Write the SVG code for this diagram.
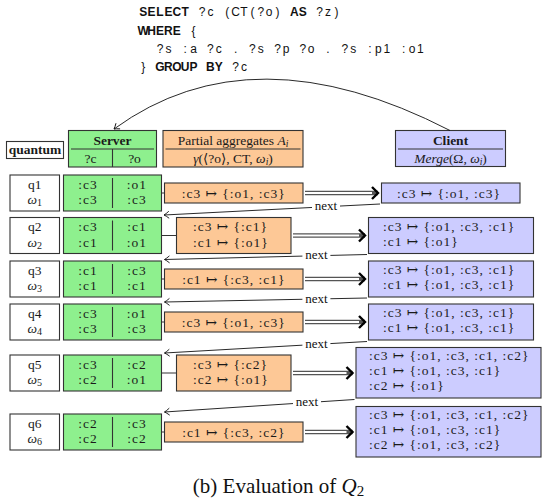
<svg xmlns="http://www.w3.org/2000/svg" width="542" height="502" viewBox="0 0 542 502">
<defs>
<style>
.q{font-family:"Liberation Sans",Arial,sans-serif;font-size:12px;fill:#111;text-anchor:middle}
.kw{font-weight:bold}
.t{font-family:"Liberation Serif","DejaVu Serif","Times New Roman",serif;font-size:13.5px;fill:#1a1a1a}
.m{letter-spacing:1px}
.c{text-anchor:middle}
.b{font-weight:bold}
.i{font-style:italic}
.sub{font-size:9.5px}
.box{stroke:#333;stroke-width:1.1}
.w{fill:#fff}
.g{fill:#8ef08e}
.o{fill:#fdc896}
.u{fill:#ccccff}
.dv{stroke:#333;stroke-width:1.1;fill:none}
.dbl{fill:none;stroke:#555;stroke-width:4.4;marker-end:url(#imp)}
.dbl-in{fill:none;stroke:#fff;stroke-width:2}
.nx{fill:none;stroke:#111;stroke-width:0.9;marker-end:url(#to)}
.lbl{font-family:"Liberation Serif","DejaVu Serif",serif;font-size:13px;fill:#111;text-anchor:middle}
.cap{font-family:"Liberation Serif","DejaVu Serif",serif;font-size:21px;fill:#111;text-anchor:middle}
</style>
<marker id="to" markerUnits="userSpaceOnUse" markerWidth="10" markerHeight="10" refX="0" refY="0" orient="auto" overflow="visible">
<path d="M-5,-3.5 Q-2,-1 0,0 Q-2,1 -5,3.5" fill="none" stroke="#111" stroke-width="0.9"/>
</marker>
<marker id="imp" markerUnits="userSpaceOnUse" markerWidth="12" markerHeight="14" refX="0" refY="0" orient="auto" overflow="visible">
<path d="M-6,-6 L0,0 L-6,6" fill="none" stroke="#000" stroke-width="2.4"/>
</marker>
</defs>
<rect width="542" height="502" fill="#fff"/>

<g id="query">
<text class="q" y="16"><tspan class="kw" x="143.2 151.6 160 168.4 176.8 185.2">SELECT</tspan><tspan x="202 210.4">?c</tspan><tspan x="227.2 235.6 244 252.4 260.8 269.2 277.6">(CT(?o)</tspan><tspan class="kw" x="294.4 302.8">AS</tspan><tspan x="319.6 328 336.4">?z)</tspan></text>
<text class="q" y="34.5"><tspan class="kw" x="143.2 151.6 160 168.4 176.8">WHERE</tspan><tspan x="193.6">{</tspan></text>
<text class="q" y="52.5"><tspan x="160 168.4">?s</tspan><tspan x="185.2 193.6">:a</tspan><tspan x="210.4 218.8">?c</tspan><tspan x="235.6">.</tspan><tspan x="252.4 260.8">?s</tspan><tspan x="277.6 286">?p</tspan><tspan x="302.8 311.2">?o</tspan><tspan x="328">.</tspan><tspan x="344.8 353.2">?s</tspan><tspan x="370 378.4 386.8">:p1</tspan><tspan x="403.6 412 420.4">:o1</tspan></text>
<text class="q" y="71"><tspan x="143.2">}</tspan><tspan class="kw" x="160 168.4 176.8 185.2 193.6">GROUP</tspan><tspan class="kw" x="210.4 218.8">BY</tspan><tspan x="235.6 244">?c</tspan></text>
</g>

<g id="hdr-quantum">
<rect class="box w" x="6.5" y="141.5" width="57" height="17"/>
<text class="t b c" x="35" y="154">quantum</text>
</g>
<g id="hdr-server">
<rect class="box g" x="68.5" y="130.5" width="88" height="36.5"/>
<path class="dv" d="M71,149 H154 M112.5,149 V167"/>
<text class="t b c" x="112.5" y="144.5">Server</text>
<text class="t c" x="90.5" y="162.5">?c</text>
<text class="t c" x="134.5" y="162.5">?o</text>
</g>
<g id="hdr-partial">
<rect class="box o" x="163" y="130.5" width="140" height="36.5"/>
<path class="dv" d="M165.5,149 H300.5"/>
<text class="t c" x="233" y="144.5">Partial aggregates <tspan class="i">A</tspan><tspan class="i sub" dy="2.5">i</tspan></text>
<text class="t c" x="233" y="162.5"><tspan class="i">γ</tspan>(⟨?o⟩, CT, <tspan class="i">ω</tspan><tspan class="i sub" dy="2.5">i</tspan><tspan dy="-2.5">)</tspan></text>
</g>
<g id="hdr-client">
<rect class="box u" x="395.5" y="130.5" width="110" height="36"/>
<path class="dv" d="M398,149 H503"/>
<text class="t b c" x="450.5" y="144.5">Client</text>
<text class="t c" x="450.5" y="162.5"><tspan class="i">Merge</tspan>(Ω, <tspan class="i">ω</tspan><tspan class="i sub" dy="2.5">i</tspan><tspan dy="-2.5">)</tspan></text>
</g>

<!-- row 1 -->
<g id="q1">
<rect class="box w" x="10" y="175" width="49.5" height="36"/>
<text class="t c" x="34.75" y="188.5">q1</text>
<text class="t c" x="34.75" y="204"><tspan class="i">ω</tspan><tspan font-size="10" dy="2">1</tspan></text>
</g>
<g id="server1">
<rect class="box g" x="63.5" y="175" width="98" height="36"/>
<path class="dv" d="M112.5,178 V208"/>
<text class="t m c" x="88" y="188.5">:c3</text><text class="t m c" x="137" y="188.5">:o1</text>
<text class="t m c" x="88" y="204">:c3</text><text class="t m c" x="137" y="204">:c3</text>
</g>
<g id="partial1">
<rect class="box o" x="164.5" y="183" width="138.5" height="20"/>
<text class="t m c" x="233.75" y="197.5">:c3 ↦ {:o1, :c3}</text>
</g>
<g id="client1">
<rect class="box u" x="381.5" y="183" width="138.5" height="20"/>
<text class="t m" x="397" y="197.5">:c3 ↦ {:o1, :c3}</text>
</g>

<!-- row 2 -->
<g id="q2">
<rect class="box w" x="10" y="217.5" width="49.5" height="36"/>
<text class="t c" x="34.75" y="231">q2</text>
<text class="t c" x="34.75" y="246.5"><tspan class="i">ω</tspan><tspan font-size="10" dy="2">2</tspan></text>
</g>
<g id="server2">
<rect class="box g" x="63.5" y="217.5" width="98" height="36"/>
<path class="dv" d="M112.5,220.5 V250.5"/>
<text class="t m c" x="88" y="231">:c3</text><text class="t m c" x="137" y="231">:c1</text>
<text class="t m c" x="88" y="246.5">:c1</text><text class="t m c" x="137" y="246.5">:o1</text>
</g>
<g id="partial2">
<rect class="box o" x="176.5" y="217.5" width="114.5" height="36"/>
<text class="t m" x="193" y="231">:c3 ↦ {:c1}</text>
<text class="t m" x="193" y="246.5">:c1 ↦ {:o1}</text>
</g>
<g id="client2">
<rect class="box u" x="368.5" y="217.5" width="165" height="36"/>
<text class="t m" x="383" y="230.7">:c3 ↦ {:o1, :c3, :c1}</text>
<text class="t m" x="383" y="245.7">:c1 ↦ {:o1}</text>
</g>

<!-- row 3 -->
<g id="q3">
<rect class="box w" x="10" y="261" width="49.5" height="36"/>
<text class="t c" x="34.75" y="274.5">q3</text>
<text class="t c" x="34.75" y="290"><tspan class="i">ω</tspan><tspan font-size="10" dy="2">3</tspan></text>
</g>
<g id="server3">
<rect class="box g" x="63.5" y="261" width="98" height="36"/>
<path class="dv" d="M112.5,264 V294"/>
<text class="t m c" x="88" y="274.5">:c1</text><text class="t m c" x="137" y="274.5">:c3</text>
<text class="t m c" x="88" y="290">:c1</text><text class="t m c" x="137" y="290">:c1</text>
</g>
<g id="partial3">
<rect class="box o" x="164.5" y="269" width="138.5" height="20"/>
<text class="t m c" x="233.75" y="283.5">:c1 ↦ {:c3, :c1}</text>
</g>
<g id="client3">
<rect class="box u" x="368.5" y="261" width="165" height="36"/>
<text class="t m" x="383" y="274.2">:c3 ↦ {:o1, :c3, :c1}</text>
<text class="t m" x="383" y="289.2">:c1 ↦ {:o1, :c3, :c1}</text>
</g>

<!-- row 4 -->
<g id="q4">
<rect class="box w" x="10" y="304" width="49.5" height="36"/>
<text class="t c" x="34.75" y="317.5">q4</text>
<text class="t c" x="34.75" y="333"><tspan class="i">ω</tspan><tspan font-size="10" dy="2">4</tspan></text>
</g>
<g id="server4">
<rect class="box g" x="63.5" y="304" width="98" height="36"/>
<path class="dv" d="M112.5,307 V337"/>
<text class="t m c" x="88" y="317.5">:c3</text><text class="t m c" x="137" y="317.5">:o1</text>
<text class="t m c" x="88" y="333">:c3</text><text class="t m c" x="137" y="333">:c3</text>
</g>
<g id="partial4">
<rect class="box o" x="164.5" y="312" width="138.5" height="20"/>
<text class="t m c" x="233.75" y="326.5">:c3 ↦ {:o1, :c3}</text>
</g>
<g id="client4">
<rect class="box u" x="368.5" y="304" width="165" height="36"/>
<text class="t m" x="383" y="317.2">:c3 ↦ {:o1, :c3, :c1}</text>
<text class="t m" x="383" y="332.2">:c1 ↦ {:o1, :c3, :c1}</text>
</g>

<!-- row 5 -->
<g id="q5">
<rect class="box w" x="10" y="355" width="49.5" height="36"/>
<text class="t c" x="34.75" y="368.5">q5</text>
<text class="t c" x="34.75" y="384"><tspan class="i">ω</tspan><tspan font-size="10" dy="2">5</tspan></text>
</g>
<g id="server5">
<rect class="box g" x="63.5" y="355" width="98" height="36"/>
<path class="dv" d="M112.5,358 V388"/>
<text class="t m c" x="88" y="368.5">:c3</text><text class="t m c" x="137" y="368.5">:c2</text>
<text class="t m c" x="88" y="384">:c2</text><text class="t m c" x="137" y="384">:o1</text>
</g>
<g id="partial5">
<rect class="box o" x="176.5" y="355" width="114.5" height="36"/>
<text class="t m" x="193" y="368.5">:c3 ↦ {:c2}</text>
<text class="t m" x="193" y="384">:c2 ↦ {:o1}</text>
</g>
<g id="client5">
<rect class="box u" x="356" y="347.5" width="185" height="50.5"/>
<text class="t m" x="369" y="360">:c3 ↦ {:o1, :c3, :c1, :c2}</text>
<text class="t m" x="369" y="375">:c1 ↦ {:o1, :c3, :c1}</text>
<text class="t m" x="369" y="390">:c2 ↦ {:o1}</text>
</g>

<!-- row 6 -->
<g id="q6">
<rect class="box w" x="10" y="414" width="49.5" height="36"/>
<text class="t c" x="34.75" y="427.5">q6</text>
<text class="t c" x="34.75" y="443"><tspan class="i">ω</tspan><tspan font-size="10" dy="2">6</tspan></text>
</g>
<g id="server6">
<rect class="box g" x="63.5" y="414" width="98" height="36"/>
<path class="dv" d="M112.5,417 V447"/>
<text class="t m c" x="88" y="427.5">:c2</text><text class="t m c" x="137" y="427.5">:c3</text>
<text class="t m c" x="88" y="443">:c2</text><text class="t m c" x="137" y="443">:c2</text>
</g>
<g id="partial6">
<rect class="box o" x="164.5" y="422" width="138.5" height="20"/>
<text class="t m c" x="233.75" y="436.5">:c1 ↦ {:c3, :c2}</text>
</g>
<g id="client6">
<rect class="box u" x="356" y="406.5" width="185" height="50.5"/>
<text class="t m" x="369" y="419">:c3 ↦ {:o1, :c3, :c1, :c2}</text>
<text class="t m" x="369" y="434">:c1 ↦ {:o1, :c3, :c1}</text>
<text class="t m" x="369" y="449">:c2 ↦ {:o1, :c3, :c2}</text>
</g>

<g id="connectors">
<path class="nx" d="M450,130.5 Q252,28.5 114,129"/>
<path class="dv" d="M161.5,193 H164.5 M161.5,235.5 H176.5 M161.5,279 H164.5 M161.5,322 H164.5 M161.5,373 H176.5 M161.5,432 H164.5"/>
<path class="dbl" d="M305,193 H378"/><path class="dbl-in" d="M305,193 H372"/>
<path class="dbl" d="M293,235.5 H365"/><path class="dbl-in" d="M293,235.5 H359"/>
<path class="dbl" d="M305,279 H365"/><path class="dbl-in" d="M305,279 H359"/>
<path class="dbl" d="M305,322 H365"/><path class="dbl-in" d="M305,322 H359"/>
<path class="dbl" d="M293,373 H352.5"/><path class="dbl-in" d="M293,373 H346.5"/>
<path class="dbl" d="M305,432 H352.5"/><path class="dbl-in" d="M305,432 H346.5"/>
<path class="nx" d="M380,204 L164,215"/>
<path class="nx" d="M367,254.5 L164.5,259.5"/>
<path class="nx" d="M367,298 L164.5,302"/>
<path class="nx" d="M367,341.5 L164.5,353"/>
<path class="nx" d="M354.5,399.5 L164.5,412"/>
<rect x="312" y="200.5" width="28" height="12" fill="#fff"/><text class="lbl" x="326" y="210.3">next</text>
<rect x="302.4" y="249.7" width="28" height="12" fill="#fff"/><text class="lbl" x="316.4" y="259.3">next</text>
<rect x="302.4" y="293" width="28" height="12" fill="#fff"/><text class="lbl" x="316.4" y="302.5">next</text>
<rect x="302.4" y="338.4" width="28" height="12" fill="#fff"/><text class="lbl" x="316.4" y="347.9">next</text>
<rect x="293" y="396.6" width="28" height="12" fill="#fff"/><text class="lbl" x="307" y="406.1">next</text>
</g>

<text class="cap" x="278.5" y="493">(b) Evaluation of <tspan class="i">Q</tspan><tspan font-size="15" dy="3">2</tspan></text>
</svg>
